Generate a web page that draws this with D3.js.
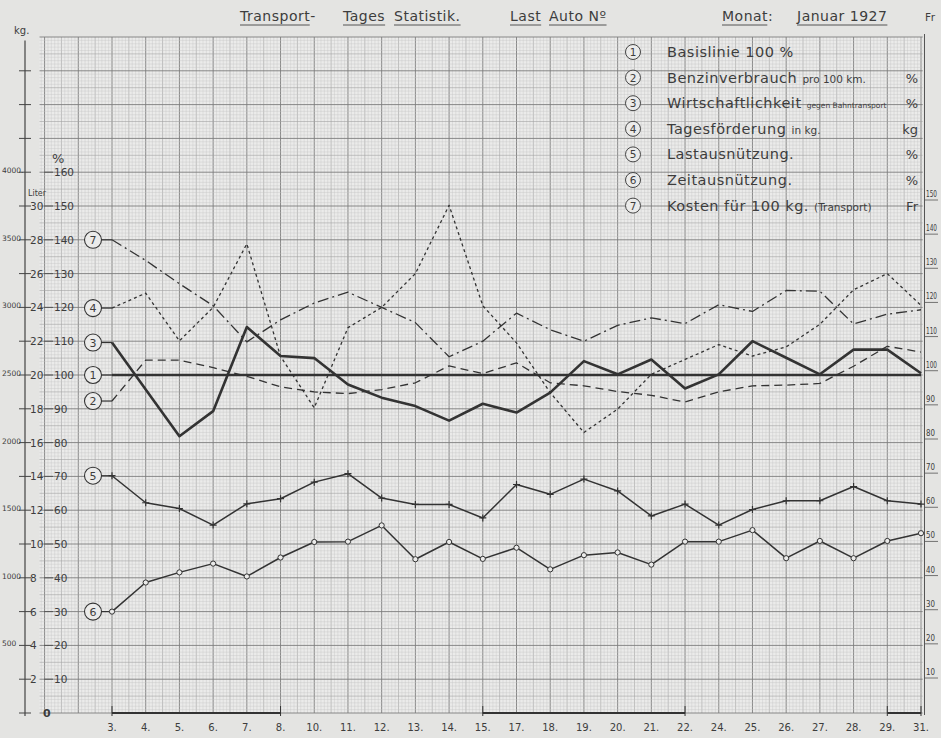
<!DOCTYPE html>
<html>
<head>
<meta charset="utf-8">
<script src="https://cdn.jsdelivr.net/npm/d3@7"></script>
<style>
body{margin:0;background:#e4e4e2;}
text{font-family:"DejaVu Sans",sans-serif;fill:#3d3d3d;}
</style>
</head>
<body>
<script>
// days of the month (some missing: sundays)
var days = ["3","4","5","6","7","8","10","11","12","13","14","15","17","18","19","20","21","22","24","25","26","27","28","29","31"];

var basisValue = 100;
var benzin     = [92.3,104.4,104.4,102.2,99.6,96.5,95,94.5,95.7,97.7,102.7,100.4,103.6,97.7,96.8,95.1,94,92,95,96.8,97,97.5,102.6,108.5,106.8];
var wirtschaft = [109.6,95.7,81.9,89.3,114.2,105.6,105,97.2,93.3,90.8,86.5,91.5,88.9,94.8,104.1,100.2,104.6,96,100.2,110,105.1,100.2,107.5,107.5,100.5];
var foerderung = [119.8,124.2,110.1,120,138.8,105.5,90.3,114,120,130,150.2,120.5,109.5,94.8,83,89.9,100.2,104.6,109,105.6,108.3,115,125.2,130,120.6];
var lastaus    = [70.2,62.2,60.5,55.6,61.9,63.4,68.3,70.8,63.6,61.7,61.7,57.7,67.6,64.7,69.2,65.7,58.3,61.8,55.6,60.2,62.8,62.8,67,62.8,61.8];
var zeitaus    = [30,38.6,41.6,44.2,40.4,46,50.6,50.7,55.5,45.5,50.6,45.6,48.9,42.5,46.7,47.5,43.9,50.7,50.7,54.1,45.8,50.9,45.8,50.9,53.2];
var kosten     = [140,133.9,127,120.5,109.8,116.3,121.3,124.5,120,115.5,105.4,110,118.3,113.4,110,114.7,116.9,115.2,120.8,118.8,125,124.8,115.1,118,119.3];

var pctTicks   = [160,150,140,130,120,110,100,90,80,70,60,50,40,30,20,10];
var literTicks = [30,28,26,24,22,20,18,16,14,12,10,8,6,4,2];
var literAt    = [150,140,130,120,110,100,90,80,70,60,50,40,30,20,10];
var kgTicks    = ["4000.","3500","3000","2500","2000","1500","1000","500"];
var kgAt       = [160,140,120,100,80,60,40,20];
var frTicks    = [150,140,130,120,110,100,90,80,70,60,50,40,30,20,10];
var weekSpans  = [["3","8"],["15","22"],["29","31"]];

var legendNames = [
  ["Basislinie 100 %", "", ""],
  ["Benzinverbrauch ", "pro 100 km.", "%"],
  ["Wirtschaftlichkeit ", "gegen Bahntransport", "%"],
  ["Tagesförderung ", "in kg.", "kg"],
  ["Lastausnützung.", "", "%"],
  ["Zeitausnützung.", "", "%"],
  ["Kosten für 100 kg. ", "(Transport)", "Fr"]
];

var width = 941, height = 738;
var svg = d3.select("body").append("svg")
  .attr("width", width).attr("height", height);

var x = d3.scalePoint().domain(days).range([112, 921]);
var xi = d3.scaleLinear().domain([0, days.length-1]).range([112, 921]);
var y = d3.scaleLinear().domain([0, 200]).range([713, 37]);
var yR = d3.scaleLinear().domain([10, 150]).range([677, 199]);

var gridLeft = xi(-2.15), gridRight = xi(24.05);

// paper
svg.append("rect").attr("x", gridLeft).attr("y", y(200))
  .attr("width", gridRight-gridLeft).attr("height", y(0)-y(200))
  .attr("fill", "#ebebea");

var grid = svg.append("g");
d3.range(-21, 241).forEach(function(t){
  var gx = xi(t/10);
  if (gx < gridLeft) return;
  var major = t % 10 == 0, mid = Math.abs(t % 5) == 0;
  grid.append("line")
    .attr("x1", gx).attr("x2", gx).attr("y1", y(200)).attr("y2", y(0))
    .attr("stroke", major ? "#7d7d7d" : mid ? "#a2a2a2" : "#c6c6c6")
    .attr("stroke-width", major ? 0.9 : mid ? 0.6 : 0.4);
});
d3.range(0, 201).forEach(function(v){
  var major = v % 10 == 0, mid = v % 5 == 0;
  grid.append("line")
    .attr("x1", gridLeft).attr("x2", gridRight).attr("y1", y(v)).attr("y2", y(v))
    .attr("stroke", major ? "#7d7d7d" : mid ? "#a2a2a2" : "#c6c6c6")
    .attr("stroke-width", major ? 0.9 : mid ? 0.6 : 0.4);
});

// header
var head = svg.append("g");
function headText(tx, s, size, ul){
  var t = head.append("text").attr("x", tx).attr("y", 21)
    .attr("font-size", size || 14).attr("letter-spacing", 0.5).text(s);
  if (ul) {
    var w = t.node().getComputedTextLength();
    head.append("line").attr("x1", tx).attr("x2", tx+w - (ul === 2 ? 6 : 0))
      .attr("y1", 25).attr("y2", 25).attr("stroke", "#444").attr("stroke-width", 0.9);
  }
}
headText(240, "Transport-", 14, 2);
headText(343, "Tages", 14, 1);
headText(394, "Statistik.", 14, 1);
headText(510, "Last", 14, 1);
headText(549, "Auto Nº", 14, 1);
headText(722, "Monat:", 14, 2);
headText(797, "Januar 1927", 14, 1);
headText(925, "Fr", 10.5, 0);

// left axis
var left = svg.append("g");
left.append("line").attr("x1", 25).attr("x2", 25).attr("y1", y(199)).attr("y2", y(0)+3)
  .attr("stroke", "#444").attr("stroke-width", 1.2);
d3.range(0, 200, 10).forEach(function(v){
  left.append("line").attr("x1", 19).attr("x2", 31).attr("y1", y(v)).attr("y2", y(v))
    .attr("stroke", "#444").attr("stroke-width", 1);
});
left.append("text").attr("x", 14).attr("y", 34).attr("font-size", 10).text("kg.");
left.append("text").attr("x", 52).attr("y", 163).attr("font-size", 13).text("%");
left.append("text").attr("x", 28).attr("y", 196).attr("font-size", 8).text("Liter");
left.append("text").attr("x", 43).attr("y", y(0)+4).attr("font-size", 11)
  .attr("font-weight", "bold").text("0");

pctTicks.forEach(function(v){
  left.append("line").attr("x1", 44).attr("x2", 53).attr("y1", y(v)).attr("y2", y(v))
    .attr("stroke", "#555").attr("stroke-width", 1);
  left.append("text").attr("x", 54).attr("y", y(v)+4).attr("font-size", 10.5).text(v);
});
literTicks.forEach(function(v, i){
  left.append("text").attr("x", 30).attr("y", y(literAt[i])+4).attr("font-size", 10.5).text(v);
});
kgTicks.forEach(function(v, i){
  left.append("text").attr("x", 2).attr("y", y(kgAt[i])+1).attr("font-size", 7.5).text(v);
});

// right axis (labels squeezed into the strip at the edge)
var right = svg.append("g");
right.append("line").attr("x1", 924.5).attr("x2", 924.5).attr("y1", 34).attr("y2", y(0)+2)
  .attr("stroke", "#555").attr("stroke-width", 1);
frTicks.forEach(function(v){
  right.append("text").attr("x", 926).attr("y", yR(v)-2).attr("font-size", 8.5)
    .attr("textLength", v >= 100 ? 11 : 9).attr("lengthAdjust", "spacingAndGlyphs").text(v);
  right.append("line").attr("x1", 925).attr("x2", 938).attr("y1", yR(v)+1).attr("y2", yR(v)+1)
    .attr("stroke", "#555").attr("stroke-width", 0.8);
});

// bottom axis
var bottom = svg.append("g");
days.forEach(function(d){
  bottom.append("text").attr("x", x(d)).attr("y", 731).attr("font-size", 10)
    .attr("text-anchor", "middle").text(d + ".");
});
weekSpans.forEach(function(s){
  bottom.append("line").attr("x1", x(s[0])).attr("x2", x(s[1]))
    .attr("y1", y(0)).attr("y2", y(0)).attr("stroke", "#333").attr("stroke-width", 2.2);
  [s[0], s[1]].forEach(function(d){
    bottom.append("line").attr("x1", x(d)).attr("x2", x(d))
      .attr("y1", y(0)-7).attr("y2", y(0)+3).attr("stroke", "#333").attr("stroke-width", 1);
  });
});

// legend
var legend = svg.append("g");
legendNames.forEach(function(n, i){
  var ly = 52 + i*25.6;
  legend.append("circle").attr("cx", 633).attr("cy", ly).attr("r", 7.5)
    .attr("fill", "#ebebea").attr("stroke", "#444").attr("stroke-width", 1);
  legend.append("text").attr("x", 633).attr("y", ly+4).attr("font-size", 10.5)
    .attr("text-anchor", "middle").text(i+1);
  var t = legend.append("text").attr("x", 667).attr("y", ly+5).attr("font-size", 14.5)
    .attr("letter-spacing", 0.5);
  t.append("tspan").text(n[0]);
  t.append("tspan").attr("font-size", i == 2 ? 7.5 : 10.5).attr("letter-spacing", 0).text(n[1]);
  legend.append("text").attr("x", 918).attr("y", ly+5).attr("font-size", 13)
    .attr("text-anchor", "end").text(n[2]);
});

// series
var series = [
  {n:1, values:null,       dash:null,        w:2.6},
  {n:2, values:benzin,     dash:"8,5",       w:1.3},
  {n:3, values:wirtschaft, dash:null,        w:2.6},
  {n:4, values:foerderung, dash:"3,3",       w:1.3},
  {n:5, values:lastaus,    dash:null,        w:1.5, mark:"plus"},
  {n:6, values:zeitaus,    dash:null,        w:1.5, mark:"circle"},
  {n:7, values:kosten,     dash:"11,4,2,4",  w:1.3}
];

var line = d3.line()
  .x(function(d, i){ return x(days[i]); })
  .y(function(d){ return y(d); });

var plot = svg.append("g");
series.forEach(function(s){
  var first = s.values ? s.values[0] : basisValue;
  // circled label at the start
  plot.append("line").attr("x1", 101).attr("x2", x(days[0])).attr("y1", y(first)).attr("y2", y(first))
    .attr("stroke", "#333").attr("stroke-width", 1.2);
  plot.append("circle").attr("cx", 93).attr("cy", y(first)).attr("r", 8.5)
    .attr("fill", "#ebebea").attr("stroke", "#333").attr("stroke-width", 1.1);
  plot.append("text").attr("x", 93).attr("y", y(first)+4).attr("font-size", 11)
    .attr("text-anchor", "middle").text(s.n);

  if (!s.values) {
    plot.append("line").attr("x1", x(days[0])).attr("x2", x(days[days.length-1]))
      .attr("y1", y(basisValue)).attr("y2", y(basisValue))
      .attr("stroke", "#333").attr("stroke-width", s.w);
    return;
  }
  plot.append("path").datum(s.values).attr("d", line)
    .attr("fill", "none").attr("stroke", "#333").attr("stroke-width", s.w)
    .attr("stroke-dasharray", s.dash).attr("stroke-linejoin", "round");

  if (s.mark == "plus") {
    s.values.forEach(function(v, i){
      var px = x(days[i]), py = y(v);
      plot.append("path").attr("d", "M"+(px-3.5)+","+py+"h7M"+px+","+(py-3.5)+"v7")
        .attr("stroke", "#333").attr("stroke-width", 1.2);
    });
  }
  if (s.mark == "circle") {
    s.values.forEach(function(v, i){
      plot.append("circle").attr("cx", x(days[i])).attr("cy", y(v)).attr("r", 2.6)
        .attr("fill", "#ebebea").attr("stroke", "#333").attr("stroke-width", 1);
    });
  }
});
</script>
</body>
</html>
